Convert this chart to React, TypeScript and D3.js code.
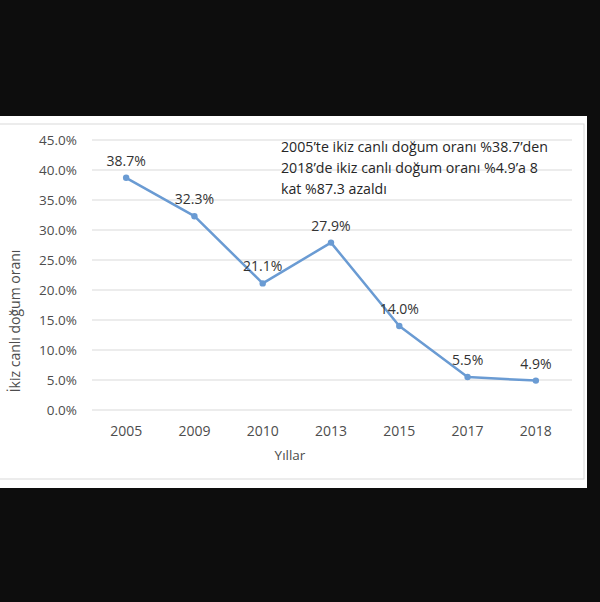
import React from 'react';
import { scaleBand, scaleLinear, line } from 'd3';

const years = ['2005', '2009', '2010', '2013', '2015', '2017', '2018'];
const rates = [38.7, 32.3, 21.1, 27.9, 14.0, 5.5, 4.9];
const yTicks = [0, 5, 10, 15, 20, 25, 30, 35, 40, 45];
const note = [
    '2005’te ikiz canlı doğum oranı %38.7’den',
    '2018’de ikiz canlı doğum oranı %4.9’a 8',
    'kat %87.3 azaldı',
];

const W = 600;
const H = 602;
const font = '"Open Sans", "Noto Sans", sans-serif';

export default function App() {
    // plot area
    const left = 92, right = 570, top = 140, bottom = 410;

    const x = scaleBand<string>().domain(years).range([left, right]);
    const y = scaleLinear().domain([0, 45]).range([bottom, top]);
    const cx = (d: string) => (x(d) as number) + x.bandwidth() / 2;

    const pts = years.map((yr, i) => ({ yr, v: rates[i] }));
    const path = line<{ yr: string; v: number }>()
        .x(d => cx(d.yr))
        .y(d => y(d.v))(pts) as string;

    return (
        <div style={{ position: 'fixed', left: 0, top: 0 }}>
            <svg width={W} height={H} style={{ display: 'block', background: '#0d0d0d' }}>
                <rect x={0} y={116} width={587} height={372} fill="#ffffff" />
                <rect x={-2} y={124} width={586} height={355} fill="none" stroke="#d9d9d9" strokeWidth={1} />

                {yTicks.map(t => (
                    <g key={t}>
                        <line x1={left} x2={right + 2} y1={y(t)} y2={y(t)} stroke="#d9d9d9" strokeWidth={1} />
                        <text x={77} y={y(t)} dy="0.35em" textAnchor="end"
                            fontFamily={font} fontSize={13.5} fill="#4d4d4d">
                            {t.toFixed(1)}%
                        </text>
                    </g>
                ))}

                {years.map(yr => (
                    <text key={yr} x={cx(yr)} y={436} textAnchor="middle"
                        fontFamily={font} fontSize={14} fill="#4d4d4d">
                        {yr}
                    </text>
                ))}

                <text x={290} y={460} textAnchor="middle" fontFamily={font} fontSize={13.5} fill="#4d4d4d">
                    Yıllar
                </text>
                <text transform="translate(20,321) rotate(-90)" textAnchor="middle"
                    fontFamily={font} fontSize={14} fill="#4d4d4d">
                    İkiz canlı doğum oranı
                </text>

                <path d={path} fill="none" stroke="#6a9bd3" strokeWidth={2.5} strokeLinejoin="round" />
                {pts.map(d => (
                    <circle key={d.yr} cx={cx(d.yr)} cy={y(d.v)} r={3.2} fill="#6a9bd3" />
                ))}
                {pts.map(d => (
                    <text key={'l' + d.yr} x={cx(d.yr)} y={y(d.v) - 17} dy="0.35em" textAnchor="middle"
                        fontFamily={font} fontSize={14} fill="#333333">
                        {d.v.toFixed(1)}%
                    </text>
                ))}

                {note.map((s, i) => (
                    <text key={i} x={281} y={147 + i * 21} dy="0.35em"
                        fontFamily={font} fontSize={14.2} fill="#262626">
                        {s}
                    </text>
                ))}
            </svg>
        </div>
    );
}
